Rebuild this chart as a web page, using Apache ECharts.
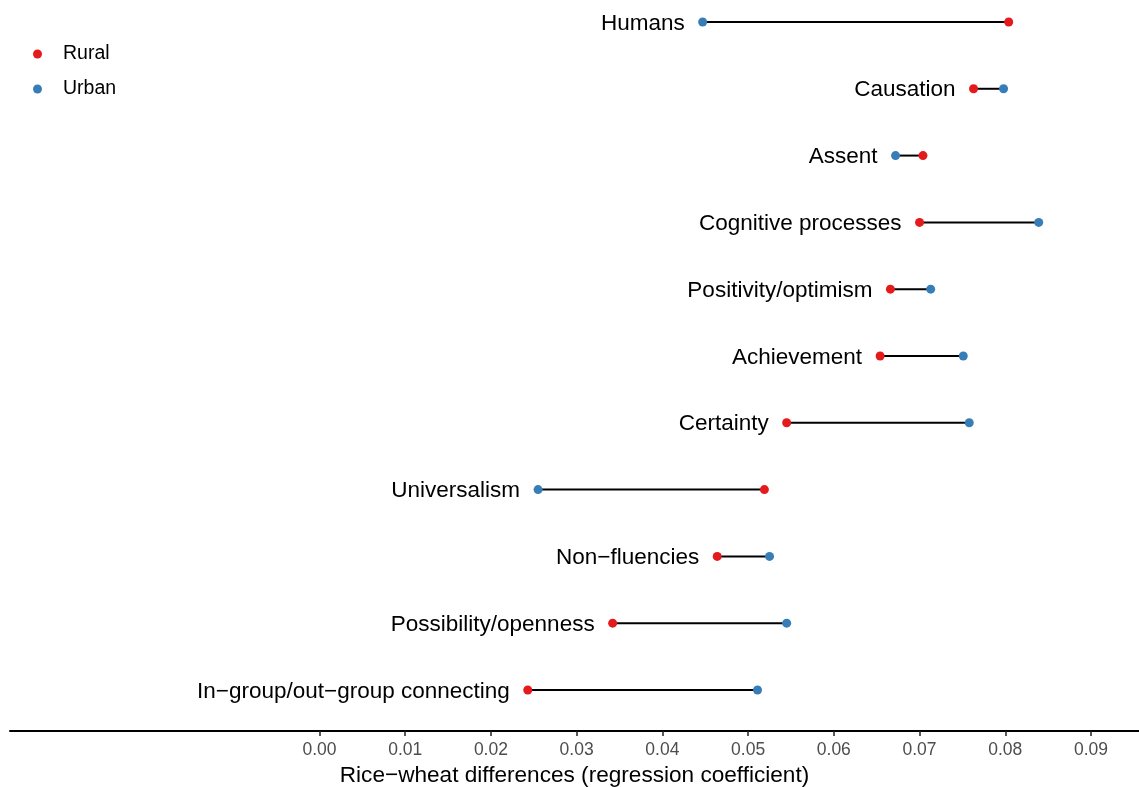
<!DOCTYPE html>
<html>
<head>
<meta charset="utf-8">
<script src="https://cdn.jsdelivr.net/npm/echarts@6/dist/echarts.min.js"></script>
<style>
html,body{margin:0;padding:0;background:#fff;}
#chart{width:1139px;height:787px;}
</style>
</head>
<body>
<div id="chart"></div>
<script>
// Categories from bottom to top
var categories = [
  "In\u2212group/out\u2212group connecting",
  "Possibility/openness",
  "Non\u2212fluencies",
  "Universalism",
  "Certainty",
  "Achievement",
  "Positivity/optimism",
  "Cognitive processes",
  "Assent",
  "Causation",
  "Humans"
];
var rural = [0.0243, 0.0342, 0.0464, 0.0519, 0.0545, 0.0654, 0.0666, 0.0700, 0.0704, 0.0763, 0.0804];
var urban = [0.0511, 0.0545, 0.0525, 0.0255, 0.0758, 0.0751, 0.0713, 0.0839, 0.0672, 0.0798, 0.0447];
var xTicks = [0, 0.01, 0.02, 0.03, 0.04, 0.05, 0.06, 0.07, 0.08, 0.09];
var xTitle = "Rice\u2212wheat differences (regression coefficient)";

var FONT = "'Liberation Sans', Arial, Helvetica, sans-serif";

var segData = categories.map(function (c, i) { return [rural[i], urban[i], i + 1]; });
var ruralData = categories.map(function (c, i) { return [rural[i], i + 1]; });
var urbanData = categories.map(function (c, i) { return [urban[i], i + 1]; });
var labelData = categories.map(function (c, i) {
  return { value: [Math.min(rural[i], urban[i]), i + 1], name: c };
});

var chart = echarts.init(document.getElementById('chart'), null, {renderer: 'canvas'});
chart.setOption({
  animation: false,
  backgroundColor: '#ffffff',
  textStyle: { fontFamily: FONT },
  grid: { left: 10, right: 0, top: 0, bottom: 56, containLabel: false, outerBoundsMode: 'none' },
  legend: {
    data: ['Rural', 'Urban'],
    orient: 'vertical',
    left: 28,
    top: 39,
    icon: 'circle',
    itemWidth: 9,
    itemHeight: 9,
    itemGap: 15,
    textStyle: { fontSize: 19.5, color: '#000', fontFamily: FONT, lineHeight: 20, padding: [0, 0, 0, 16] }
  },
  xAxis: {
    type: 'value',
    min: -0.0361,
    max: 0.0956,
    name: xTitle,
    nameLocation: 'middle',
    nameGap: 29,
    nameTextStyle: { fontSize: 22.6, color: '#000', fontFamily: FONT },
    axisLine: { show: true, lineStyle: { color: '#000', width: 2 } },
    axisTick: { show: true, customValues: xTicks, length: 5, lineStyle: { color: '#222', width: 1.5 } },
    axisLabel: {
      show: true,
      customValues: xTicks,
      margin: 10,
      fontSize: 17.5,
      color: '#4D4D4D',
      fontFamily: FONT,
      formatter: function (v) { return v.toFixed(2); }
    },
    splitLine: { show: false }
  },
  yAxis: {
    type: 'value',
    min: 0.386,
    max: 11.329,
    show: false,
    splitLine: { show: false }
  },
  series: [
    {
      type: 'custom',
      name: 'segments',
      silent: true,
      z: 1,
      data: segData,
      encode: { x: [0, 1], y: 2 },
      renderItem: function (params, api) {
        var p1 = api.coord([api.value(0), api.value(2)]);
        var p2 = api.coord([api.value(1), api.value(2)]);
        return {
          type: 'line',
          shape: { x1: p1[0], y1: p1[1], x2: p2[0], y2: p2[1] },
          style: { stroke: '#000', lineWidth: 2 }
        };
      }
    },
    {
      type: 'scatter',
      name: 'Rural',
      z: 3,
      symbolSize: 9,
      itemStyle: { color: '#E41A1C', opacity: 1 },
      data: ruralData
    },
    {
      type: 'scatter',
      name: 'Urban',
      z: 3,
      symbolSize: 9,
      itemStyle: { color: '#377EB8', opacity: 1 },
      data: urbanData
    },
    {
      type: 'scatter',
      name: 'labels',
      silent: true,
      z: 2,
      symbolSize: 1,
      itemStyle: { color: 'rgba(0,0,0,0)' },
      label: {
        show: true,
        position: 'left',
        distance: 17.5,
        offset: [0, 1.5],
        fontSize: 22.5,
        color: '#000000',
        opacity: 1,
        fontFamily: FONT,
        formatter: function (p) { return p.name; }
      },
      data: labelData
    }
  ]
});
</script>
</body>
</html>
